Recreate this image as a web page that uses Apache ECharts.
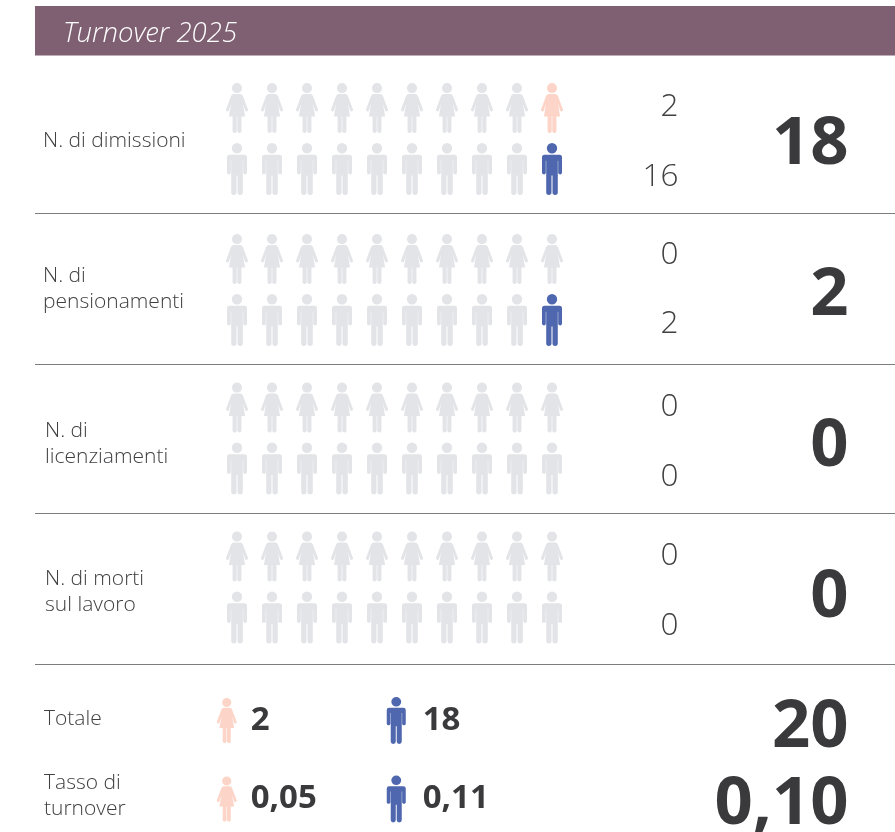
<!DOCTYPE html>
<html>
<head>
<meta charset="utf-8">
<style>html,body{margin:0;padding:0;background:#fff}#main{width:895px;height:832px}</style>
<script src="https://cdn.jsdelivr.net/npm/echarts@6/dist/echarts.min.js"></script>
</head>
<body>
<div id="main"></div>
<script>
var titleText = 'Turnover 2025';
var rowNames = ['N. di dimissioni', 'N. di\npensionamenti', 'N. di\nlicenziamenti', 'N. di morti\nsul lavoro'];
var femaleValues = [2, 0, 0, 0];
var maleValues = [16, 2, 0, 0];
var rowTotals = [18, 2, 0, 0];
var iconSlots = ['1', '2', '3', '4', '5', '6', '7', '8', '9', '10'];
var genders = ['F', 'M'];
var summaryNames = ['Totale', 'Tasso di\nturnover'];
var summaryFemale = ['2', '0,05'];
var summaryMale = ['18', '0,11'];
var summaryTotals = ['20', '0,10'];

var femalePath = 'path://M11 0a5 5 0 1 0 0.01 0zM8 10.8H14Q16 10.8 16.8 12.7L21.8 26A1.5 1.5 0 0 1 19 27.1L16.9 20.5L19 33H15.4V48A2.2 2.2 0 0 1 11.3 48V33H10.7V48A2.2 2.2 0 0 1 6.6 48V33H3L5.1 20.5L3 27.1A1.5 1.5 0 0 1 0.2 26L5.2 12.7Q6 10.8 8 10.8Z';
var malePath = 'path://M10 0a5.2 5.2 0 1 0 0.01 0zM2.5 11.6H17.5Q20 11.6 20 14.1V29.5A2 2 0 0 1 16.2 29.5V17.5H15.8V48.6A2.6 2.6 0 0 1 10.5 48.6V32H9.5V48.6A2.6 2.6 0 0 1 4.2 48.6V17.5H3.8V29.5A2 2 0 0 1 0 29.5V14.1Q0 11.6 2.5 11.6Z';

var grey = '#e3e4e8', pink = '#fcd5c8', blue = '#4f67ae', dark = '#3a3a3d', soft = '#404043';
var fontName = '"Open Sans"';

// top of each block, two bands of 61px
var blockTops = [77.5, 228.5, 377, 526];
var lineYs = [213.5, 364.5, 513.5, 664.5];
var labelYs = [141, 289, 444, 592];
var femaleYs = [107, 255, 407, 556];
var maleYs = [177, 324, 477, 626];
var totalYs = [145, 296, 447, 598];

var grids = [], xAxes = [], yAxes = [], seriesInfo = [], texts = [];

function addGrid(left, top, width, height, xData, yData) {
    // outerBoundsMode none: the last grid runs past the canvas on purpose
    grids.push({left: left, top: top, width: width, height: height, outerBoundsMode: 'none'});
    xAxes.push({type: 'category', data: xData, gridIndex: grids.length - 1, show: false});
    yAxes.push({type: 'category', data: yData, gridIndex: grids.length - 1, show: false, inverse: true});
    return grids.length - 1;
}

function addText(x, y, text, size, color, align, weight, lineHeight) {
    texts.push({
        type: 'text', x: x, y: y, silent: true,
        style: {
            text: text, fill: color, align: align, verticalAlign: 'middle',
            font: weight + ' ' + size + 'px ' + fontName, lineHeight: lineHeight
        }
    });
}

rowNames.forEach(function (name, r) {
    var g = addGrid(219.5, blockTops[r], 350, 122, iconSlots, genders);
    var counts = [femaleValues[r], maleValues[r]];
    genders.forEach(function (gender, k) {
        var points = iconSlots.map(function (s, i) {
            var on = i === iconSlots.length - 1 && counts[k] > 0;
            return {
                value: [i, k],
                itemStyle: {color: on ? (k === 0 ? pink : blue) : grey, opacity: 1}
            };
        });
        seriesInfo.push({
            type: 'scatter', xAxisIndex: g, yAxisIndex: g, silent: true,
            symbol: k === 0 ? femalePath : malePath,
            symbolSize: k === 0 ? [22, 50] : [20, 52],
            data: points
        });
    });
    addText(r === 0 || r === 1 ? 43 : 45, labelYs[r], name, 21, soft, 'left', 300, 26);
    addText(678.5, femaleYs[r], String(femaleValues[r]), 31.5, soft, 'right', 300);
    addText(678.5, maleYs[r], String(maleValues[r]), 31.5, soft, 'right', 300);
    addText(848.5, totalYs[r], String(rowTotals[r]), 67, dark, 'right', 700);
    texts.push({type: 'line', silent: true, shape: {x1: 35, y1: lineYs[r], x2: 895, y2: lineYs[r]}, style: {stroke: '#7d7d7d', lineWidth: 1}});
});

// bottom summary: one icon per gender per row, label beside it
var g2 = addGrid(142, 681.25, 339, 157, genders, summaryNames);
[summaryFemale, summaryMale].forEach(function (vals, k) {
    seriesInfo.push({
        type: 'scatter', xAxisIndex: g2, yAxisIndex: g2, silent: true,
        symbol: k === 0 ? femalePath : malePath,
        symbolSize: k === 0 ? [20, 45] : [19, 47],
        itemStyle: {color: k === 0 ? pink : blue, opacity: 1},
        label: {
            show: true, position: 'right', distance: k === 0 ? 14 : 17,
            color: dark, fontFamily: 'Open Sans', fontWeight: 700, fontSize: 33,
            formatter: function (p) { return vals[p.dataIndex]; }
        },
        data: vals.map(function (v, i) { return [k, i]; })
    });
});

addText(44, 719, summaryNames[0], 21, soft, 'left', 300, 26);
addText(44, 796, summaryNames[1], 21, soft, 'left', 300, 26);
addText(848.5, 728, summaryTotals[0], 67, dark, 'right', 700);
addText(848.5, 805, summaryTotals[1], 67, dark, 'right', 700);

var header = [
    {type: 'rect', silent: true, shape: {x: 35, y: 6, width: 860, height: 49.5}, style: {fill: '#7f5f72'}},
    {type: 'text', silent: true, x: 63, y: 34, style: {text: titleText, fill: '#ffffff', verticalAlign: 'middle', font: 'italic 300 27.5px ' + fontName}}
];

var option = {
    animation: false,
    backgroundColor: '#ffffff',
    grid: grids,
    xAxis: xAxes,
    yAxis: yAxes,
    series: seriesInfo,
    graphic: {elements: header.concat(texts)}
};

var myChart = echarts.init(document.getElementById('main'));
myChart.setOption(option);
</script>
</body>
</html>
